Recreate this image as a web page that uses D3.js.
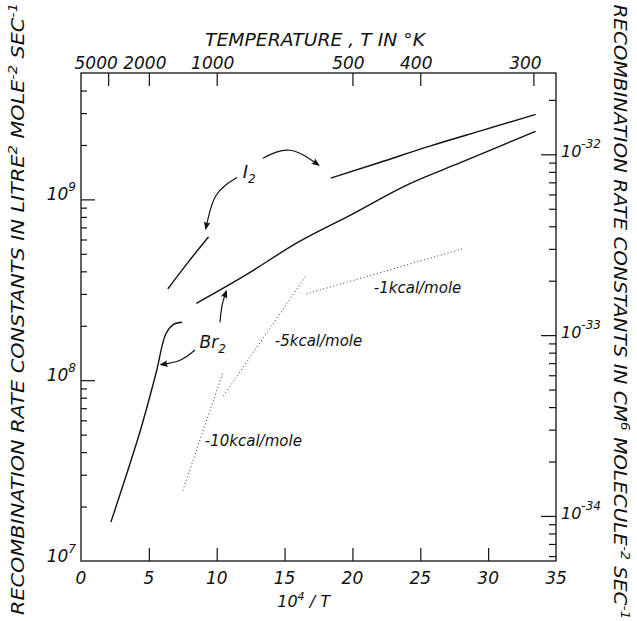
<!DOCTYPE html>
<html>
<head>
<meta charset="utf-8">
<script src="https://cdn.jsdelivr.net/npm/d3@7"></script>
<style>
  html, body { margin: 0; padding: 0; background: #fff; }
  svg { display: block; }
  text { font-family: "DejaVu Sans", sans-serif; font-style: italic; fill: #111; }
</style>
</head>
<body>
<div id="chart"></div>
<script>
// values: x = 10^4/T, k in litre^2 mole^-2 sec^-1
const i2High = [[6.4, 3.2e8], [7.9, 4.5e8], [9.4, 6.2e8]];
const i2Low = [[18.4, 1.31e9], [22, 1.6e9], [25.7, 1.97e9], [29.5, 2.4e9], [33.5, 2.95e9]];
const br2Low = [[8.5, 2.66e8], [12, 3.76e8], [16, 5.8e8], [20, 8.3e8], [24, 1.2e9], [28, 1.6e9], [33.5, 2.38e9]];
const br2High = [[2.2, 1.64e7], [4.35, 5.2e7], [5.55, 1.11e8], [6.25, 1.8e8], [6.85, 2.04e8], [7.45, 2.09e8]];
const slope1 = [[16.6, 3.0e8], [28.2, 5.35e8]];
const slope5 = [[10.5, 8.2e7], [16.6, 3.8e8]];
const slope10 = [[7.5, 2.45e7], [10.45, 1.1e8]];

const xTicks = [0, 5, 10, 15, 20, 25, 30, 35];
const tempTicks = [5000, 2000, 1000, 500, 400, 300];
const leftMajor = [1e7, 1e8, 1e9];
const rightMajor = [1e-34, 1e-33, 1e-32];
const cmPerLitre = 1e-32 / 1.775e9; // as drawn on the right-hand scale

const notes = [
  { text: "-1kcal/mole", at: [24.8, 3.03e8] },
  { text: "-5kcal/mole", at: [17.5, 1.54e8] },
  { text: "-10kcal/mole", at: [12.7, 4.3e7] }
];
const arrows = [
  [[13.4, 1.69e9], [15.4, 1.87e9], [17.5, 1.55e9]],
  [[11.5, 1.32e9], [9.95, 1.05e9], [9.2, 6.9e8]],
  [[10.24, 2.09e8], [10.4, 2.6e8], [10.7, 3.1e8]],
  [[8.4, 1.47e8], [7.3, 1.29e8], [5.9, 1.22e8]]
];

const W = 637, H = 621;
const x = d3.scaleLinear().domain([0, 35]).range([81, 556]);
const y = d3.scaleLog().domain([1e7, 5e9]).range([561, 73]);
const y2 = d3.scaleLog().domain([1e7 * cmPerLitre, 5e9 * cmPerLitre]).range([561, 73]);

const svg = d3.select('#chart').append('svg').attr('width', W).attr('height', H);

svg.append('defs').append('marker')
  .attr('id', 'head').attr('viewBox', '0 0 10 10')
  .attr('refX', 8).attr('refY', 5)
  .attr('markerWidth', 7).attr('markerHeight', 7)
  .attr('orient', 'auto')
  .append('path').attr('d', 'M0,1 L10,5 L0,9 Q3,5 0,1 Z').attr('fill', '#111');

// frame
svg.append('rect')
  .attr('x', x(0)).attr('y', y(5e9))
  .attr('width', x(35) - x(0)).attr('height', y(1e7) - y(5e9))
  .attr('fill', 'none').attr('stroke', '#111').attr('stroke-width', 1.3);

function minorLog(scale) {
  const [a, b] = scale.domain();
  const out = [];
  for (let e = Math.floor(Math.log10(a)); e <= Math.ceil(Math.log10(b)); e++) {
    for (let m = 2; m <= 9; m++) {
      const v = m * Math.pow(10, e);
      if (v > a && v < b) out.push(v);
    }
  }
  return out;
}

function tidy(g) {
  g.select('.domain').remove();
  g.selectAll('line').attr('stroke', '#111').attr('stroke-width', 1.2);
  g.selectAll('text').remove();
}

// bottom axis
svg.append('g').attr('transform', `translate(0,${y(1e7)})`)
  .call(d3.axisTop(x).tickValues(xTicks.slice(1, -1)).tickSize(13)).call(tidy);
svg.append('g').selectAll('text').data(xTicks).enter().append('text')
  .attr('x', d => x(d)).attr('y', 584)
  .attr('text-anchor', 'middle').attr('font-size', 17)
  .text(d => d);
svg.append('text').attr('x', x(16.4)).attr('y', 607).attr('text-anchor', 'middle').attr('font-size', 16)
  .html('10<tspan dy="-7" font-size="11">4</tspan><tspan dy="7"> / T</tspan>');

// top axis (temperature)
svg.append('g').attr('transform', `translate(0,${y(5e9)})`)
  .call(d3.axisBottom(x).tickValues(tempTicks.map(t => 1e4 / t)).tickSize(13)).call(tidy);
svg.append('g').selectAll('text').data(tempTicks).enter().append('text')
  .attr('x', d => x(1e4 / d) - (d === 5000 ? 12 : d === 300 ? 8 : 4)).attr('y', 69)
  .attr('text-anchor', 'middle').attr('font-size', 17)
  .text(d => d);
svg.append('text').attr('x', 315).attr('y', 46).attr('text-anchor', 'middle').attr('font-size', 17)
  .attr('textLength', 220).attr('lengthAdjust', 'spacingAndGlyphs')
  .text('TEMPERATURE , T IN  \u00B0K');

// left axis
svg.append('g').attr('transform', `translate(${x(0)},0)`)
  .call(d3.axisRight(y).tickValues(minorLog(y)).tickSize(6)).call(tidy);
svg.append('g').attr('transform', `translate(${x(0)},0)`)
  .call(d3.axisRight(y).tickValues(leftMajor.slice(1)).tickSize(14)).call(tidy);
svg.append('g').selectAll('text').data(leftMajor).enter().append('text')
  .attr('x', 76).attr('y', d => y(d) + 1)
  .attr('text-anchor', 'end').attr('font-size', 17)
  .html(d => `10<tspan dy="-9" font-size="12">${Math.round(Math.log10(d))}</tspan>`);

// right axis (cm^6 molecule^-2 sec^-1)
svg.append('g').attr('transform', `translate(${x(35)},0)`)
  .call(d3.axisLeft(y2).tickValues(minorLog(y2)).tickSize(7)).call(tidy);
svg.append('g').attr('transform', `translate(${x(35)},0)`)
  .call(d3.axisLeft(y2).tickValues(rightMajor).tickSize(15)).call(tidy);
svg.append('g').selectAll('text').data(rightMajor).enter().append('text')
  .attr('x', 561).attr('y', d => y2(d) + 3)
  .attr('font-size', 16)
  .html(d => `10<tspan dy="-9" font-size="12">${Math.round(Math.log10(d))}</tspan>`);

// axis titles
svg.append('text')
  .attr('transform', 'translate(24,309) rotate(-90)')
  .attr('text-anchor', 'middle').attr('font-size', 17)
  .attr('textLength', 612).attr('lengthAdjust', 'spacingAndGlyphs')
  .html('RECOMBINATION  RATE  CONSTANTS  IN  LITRE<tspan dy="-7" font-size="12">2</tspan><tspan dy="7"> MOLE</tspan><tspan dy="-7" font-size="12">-2</tspan><tspan dy="7"> SEC</tspan><tspan dy="-7" font-size="12">-1</tspan>');
svg.append('text')
  .attr('transform', 'translate(614,312) rotate(90)')
  .attr('text-anchor', 'middle').attr('font-size', 17)
  .attr('textLength', 615).attr('lengthAdjust', 'spacingAndGlyphs')
  .html('RECOMBINATION  RATE  CONSTANTS  IN  CM<tspan dy="-7" font-size="12">6</tspan><tspan dy="7"> MOLECULE</tspan><tspan dy="-7" font-size="12">-2</tspan><tspan dy="7"> SEC</tspan><tspan dy="-7" font-size="12">-1</tspan>');

// curves
const line = d3.line().x(d => x(d[0])).y(d => y(d[1])).curve(d3.curveMonotoneX);
[i2High, i2Low, br2Low].forEach(s => {
  svg.append('path').attr('d', line(s)).attr('fill', 'none').attr('stroke', '#111').attr('stroke-width', 1.4);
});
svg.append('path')
  .attr('d', d3.line().x(d => x(d[0])).y(d => y(d[1])).curve(d3.curveCatmullRom)(br2High))
  .attr('fill', 'none').attr('stroke', '#111').attr('stroke-width', 1.4);

[slope1, slope5, slope10].forEach(s => {
  svg.append('path').attr('d', d3.line().x(d => x(d[0])).y(d => y(d[1]))(s))
    .attr('fill', 'none').attr('stroke', '#333').attr('stroke-width', 1)
    .attr('stroke-dasharray', '1,2.5');
});

// annotations
const curve = d3.line().x(d => x(d[0])).y(d => y(d[1])).curve(d3.curveNatural);
arrows.forEach(a => {
  svg.append('path').attr('d', curve(a)).attr('fill', 'none')
    .attr('stroke', '#111').attr('stroke-width', 1.2).attr('marker-end', 'url(#head)');
});
notes.forEach(n => {
  svg.append('text').attr('x', x(n.at[0])).attr('y', y(n.at[1]))
    .attr('text-anchor', 'middle').attr('font-size', 15).text(n.text);
});
svg.append('text').attr('x', x(12.4)).attr('y', y(1.31e9)).attr('text-anchor', 'middle').attr('font-size', 18)
  .html('I<tspan dy="5" font-size="12">2</tspan>');
svg.append('text').attr('x', x(9.7)).attr('y', y(1.5e8)).attr('text-anchor', 'middle').attr('font-size', 17)
  .html('Br<tspan dy="5" font-size="12">2</tspan>');
</script>
</body>
</html>
